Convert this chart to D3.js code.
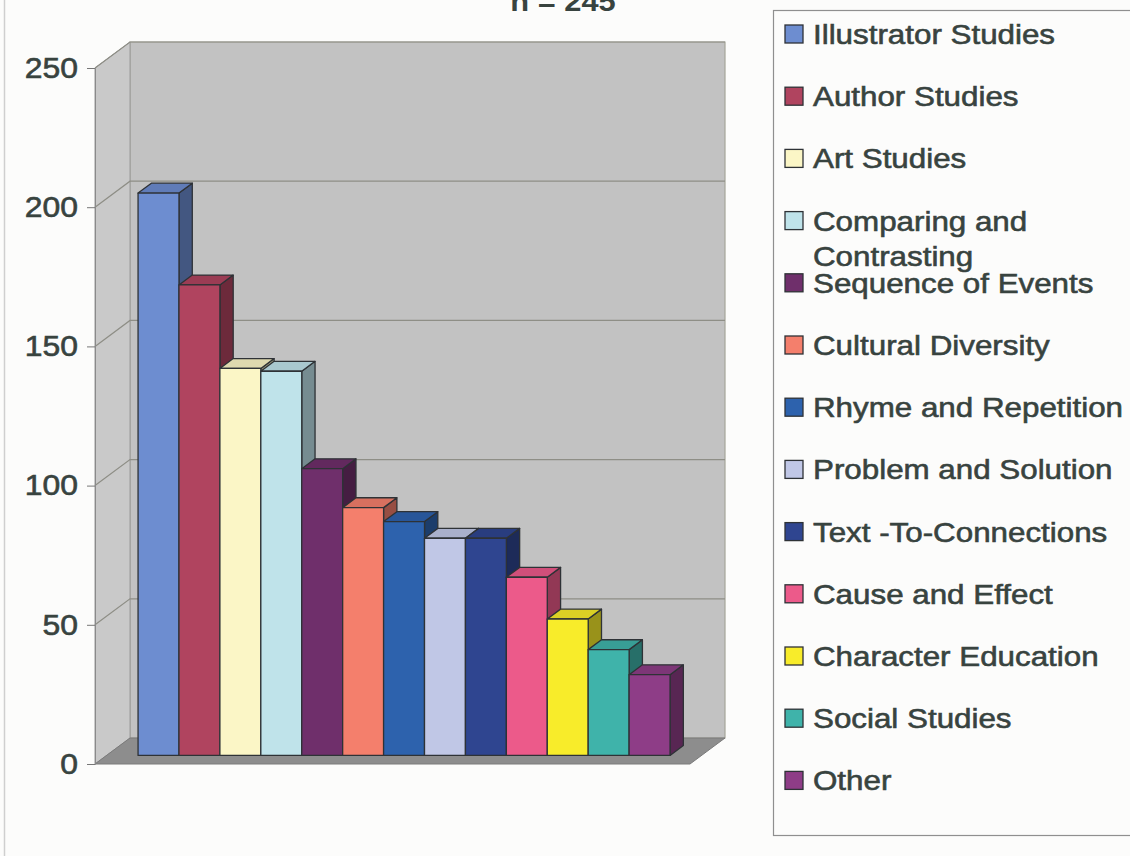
<!DOCTYPE html>
<html>
<head>
<meta charset="utf-8">
<script src="https://cdn.jsdelivr.net/npm/d3@7"></script>
<style>
  body { margin: 0; background: #fcfcfb; }
  svg { display: block; font-family: "Liberation Sans", Arial, sans-serif; }
</style>
</head>
<body>
<div id="chart"></div>
<script>
// data
var categories = ["Illustrator Studies", "Author Studies", "Art Studies", "Comparing and Contrasting",
  "Sequence of Events", "Cultural Diversity", "Rhyme and Repetition", "Problem and Solution",
  "Text -To-Connections", "Cause and Effect", "Character Education", "Social Studies", "Other"];
var values = [202, 169, 139, 138, 103, 89, 84, 78, 78, 64, 49, 38, 29];
var colors = ["#6d8dd0", "#b0445f", "#fbf6c6", "#bfe3ea", "#6f2f6b", "#f47f6c", "#2d62ad",
  "#c0c7e6", "#2f4590", "#ec5a8a", "#f8ec2a", "#3fb3aa", "#8e3d87"];
var yTicks = [0, 50, 100, 150, 200, 250];
var title = "n = 245";

var width = 1130, height = 856;
var textColor = "#38433f";

// front plane of the floor and depth offset of the 3d box
var x0 = 95, x1 = 690;
var depth = [35, -26];
var f1 = 0.33, f2 = 0.71;   // bar front / back as fraction of depth

var svg = d3.select("#chart").append("svg")
  .attr("width", width)
  .attr("height", height);

var y = d3.scaleLinear().domain([0, 250]).range([764, 68]);
var x = d3.scaleBand().domain(categories).range([x0, x1])
  .paddingInner(0).paddingOuter(0.77);

function p(px, v, f) {
  return [px + f * depth[0], y(v) + f * depth[1]];
}
function poly(pts) {
  return pts.map(function(d) { return d.join(","); }).join(" ");
}

// chart area left edge
svg.append("line")
  .attr("x1", 4.5).attr("x2", 4.5).attr("y1", 0).attr("y2", height)
  .style("stroke", "#cfcfcf").style("stroke-width", 1.5);

// title (cut off at top)
svg.append("text")
  .text(title)
  .attr("transform", "translate(563,11) scale(1.1,1)")
  .style("text-anchor", "middle")
  .style("font-size", "28px")
  .style("font-weight", "bold")
  .style("fill", textColor);

// walls
svg.append("polygon")
  .attr("points", poly([p(x0, 0, 1), p(x1, 0, 1), p(x1, 250, 1), p(x0, 250, 1)]))
  .style("fill", "#c2c2c2").style("stroke", "#a5a59a").style("stroke-width", 1.2);
svg.append("polygon")
  .attr("points", poly([p(x0, 0, 0), p(x0, 0, 1), p(x0, 250, 1), p(x0, 250, 0)]))
  .style("fill", "#c9c9c9").style("stroke", "#9a9a9a").style("stroke-width", 1);
svg.append("polygon")
  .attr("points", poly([p(x0, 0, 0), p(x1, 0, 0), p(x1, 0, 1), p(x0, 0, 1)]))
  .style("fill", "#8d8d8d").style("stroke", "#7a7a7a").style("stroke-width", 1);

// gridlines on back and side wall
var grid = svg.append("g").attr("class", "grid");
yTicks.filter(function(t) { return t > 0; }).forEach(function(t) {
  grid.append("polyline")
    .attr("points", poly([p(x0, t, 0), p(x0, t, 1), p(x1, t, 1)]))
    .style("fill", "none")
    .style("stroke", "#8e8e86")
    .style("stroke-width", 1.2);
});

// y axis on the front edge
var axis = svg.append("g")
  .attr("transform", "translate(" + x0 + ",0)")
  .call(d3.axisLeft(y).tickValues(yTicks).tickSize(8).tickPadding(6));
axis.select(".domain").style("stroke", "#8a8a8a");
axis.selectAll(".tick line").style("stroke", "#777");
axis.selectAll(".tick text")
  .attr("x", null)
  .attr("transform", "translate(-17,0) scale(1.1,1)")
  .style("font-size", "29px")
  .style("font-family", "'Liberation Sans', Arial, sans-serif")
  .style("fill", textColor)
  .style("stroke", textColor)
  .style("stroke-width", 0.6);

// bars, drawn left to right so each hides the side of the previous
var bars = svg.selectAll("g.bar")
  .data(categories)
  .enter().append("g")
  .attr("class", "bar");

bars.each(function(c, i) {
  var g = d3.select(this);
  var a = x(c), b = a + x.bandwidth(), v = values[i];
  var base = d3.color(colors[i]);
  var edge = { stroke: "#2e3236", width: 1.3 };
  g.append("polygon")
    .attr("points", poly([p(b, 0, f1), p(b, 0, f2), p(b, v, f2), p(b, v, f1)]))
    .style("fill", base.darker(1.35))
    .style("stroke", edge.stroke).style("stroke-width", edge.width)
    .style("stroke-linejoin", "round");
  g.append("polygon")
    .attr("points", poly([p(a, v, f1), p(b, v, f1), p(b, v, f2), p(a, v, f2)]))
    .style("fill", base.darker(0.35))
    .style("stroke", edge.stroke).style("stroke-width", edge.width)
    .style("stroke-linejoin", "round");
  g.append("polygon")
    .attr("points", poly([p(a, 0, f1), p(b, 0, f1), p(b, v, f1), p(a, v, f1)]))
    .style("fill", base)
    .style("stroke", edge.stroke).style("stroke-width", edge.width)
    .style("stroke-linejoin", "round");
});

// legend
var legend = svg.append("g").attr("class", "legend");
legend.append("rect")
  .attr("x", 773.5).attr("y", 10.5)
  .attr("width", 400).attr("height", 825)
  .style("fill", "none")
  .style("stroke", "#8f8f8f")
  .style("stroke-width", 1.2);

var rowStep = 62.2, firstBase = 44;
var item = legend.selectAll("g.item")
  .data(categories)
  .enter().append("g")
  .attr("class", "item")
  .attr("transform", function(d, i) {
    return "translate(0," + (firstBase + i * rowStep) + ")";
  });

item.append("rect")
  .attr("x", 785).attr("y", -19)
  .attr("width", 18).attr("height", 18)
  .style("fill", function(d, i) { return colors[i]; })
  .style("stroke", "#2e3236")
  .style("stroke-width", 1.3);

item.append("text")
  .attr("transform", "translate(813,0) scale(1.1,1)")
  .style("font-size", "28.5px")
  .style("fill", textColor)
  .style("stroke", textColor)
  .style("stroke-width", 0.6)
  .each(function(d) {
    var t = d3.select(this);
    var lines = d === "Comparing and Contrasting" ? ["Comparing and", "Contrasting"] : [d];
    lines.forEach(function(l, k) {
      t.append("tspan").attr("x", 0).attr("y", k * 35).text(l);
    });
  });
</script>
</body>
</html>
